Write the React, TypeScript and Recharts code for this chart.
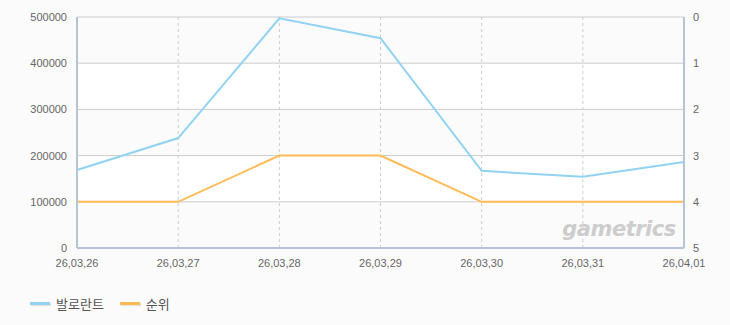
import React from 'react';
import { LineChart, Line, XAxis, YAxis, CartesianGrid, Legend, Customized } from 'recharts';

const dates = ['26,03,26', '26,03,27', '26,03,28', '26,03,29', '26,03,30', '26,03,31', '26,04,01'];
const valorant = [169000, 238000, 497000, 454000, 167000, 154000, 186000];
const rank = [4, 4, 3, 3, 4, 4, 4];
const leftTicks = [0, 100000, 200000, 300000, 400000, 500000];
const rightTicks = [0, 1, 2, 3, 4, 5];
const seriesNames = ['발로란트', '순위'];
const colors = ['#92d2f2', '#ffbb55'];

const data = dates.map((d, i) => ({ date: d, v: valorant[i], r: rank[i] }));

const FONT = '"Noto Sans CJK KR", "Noto Sans", sans-serif';
const TICKFONT = '"Liberation Sans", Arial, sans-serif';
const AXIS = '#b4c4d6';

const LegendContent = () => (
  <div style={{ display: 'flex', alignItems: 'center', height: 40, fontFamily: FONT, fontSize: 13, color: '#555' }}>
    {seriesNames.map((n, i) => (
      <div key={n} style={{ display: 'flex', alignItems: 'center', marginRight: 16 }}>
        <span style={{ display: 'inline-block', width: 20, height: 3, background: colors[i], marginRight: 6, boxShadow: '1px 1px 1px #ddd' }} />
        <span>{n}</span>
      </div>
    ))}
  </div>
);

const Watermark = () => (
  <text x={619} y={236} textAnchor="middle" fontFamily="'DejaVu Sans', sans-serif" fontStyle="italic" fontWeight="bold" fontSize={21} fill="#cdcdcd" letterSpacing={-0.5}>
    gametrics
  </text>
);

export default function App() {
  return (
    <div style={{ position: 'absolute', left: 0, top: 0, width: 730, height: 325, background: '#fbfbfb' }}>
      <LineChart width={730} height={325} data={data} margin={{ top: 17, right: 0, bottom: 15, left: 0 }}>
        <CartesianGrid
          yAxisId="left"
          stroke="#cccccc"
          vertical={false}
          horizontalFill={['#fbfbfb', '#ffffff']}
        />
        <CartesianGrid yAxisId="left" stroke="#cccccc" horizontal={false} strokeDasharray="3 3" />
        <XAxis
          dataKey="date"
          height={22}
          tickLine={false}
          axisLine={{ stroke: AXIS, strokeWidth: 2 }}
          tick={{ fill: '#666', fontSize: 11, fontFamily: TICKFONT }}
          tickMargin={5}
          interval={0}
        />
        <XAxis xAxisId="top" orientation="top" dataKey="date" height={0} tick={false} tickLine={false} axisLine={{ stroke: AXIS, strokeWidth: 2 }} />
        <YAxis
          yAxisId="left"
          width={77}
          domain={[0, 500000]}
          ticks={leftTicks}
          tickLine={false}
          axisLine={{ stroke: AXIS, strokeWidth: 2 }}
          tick={{ fill: '#666', fontSize: 11, fontFamily: TICKFONT }}
          tickMargin={4}
        />
        <YAxis
          yAxisId="right"
          orientation="right"
          width={46}
          domain={[0, 5]}
          reversed
          ticks={rightTicks}
          tickLine={false}
          axisLine={{ stroke: AXIS, strokeWidth: 2 }}
          tick={{ fill: '#666', fontSize: 11, fontFamily: TICKFONT }}
          tickMargin={3}
        />
        <Legend verticalAlign="bottom" align="left" content={<LegendContent />} wrapperStyle={{ left: 30, bottom: 2, width: 300 }} />
        <Customized component={Watermark} />
        <Line yAxisId="left" dataKey="v" name={seriesNames[0]} stroke={colors[0]} strokeWidth={2} dot={false} isAnimationActive={false} />
        <Line yAxisId="right" dataKey="r" name={seriesNames[1]} stroke={colors[1]} strokeWidth={2} dot={false} isAnimationActive={false} />
      </LineChart>
    </div>
  );
}
